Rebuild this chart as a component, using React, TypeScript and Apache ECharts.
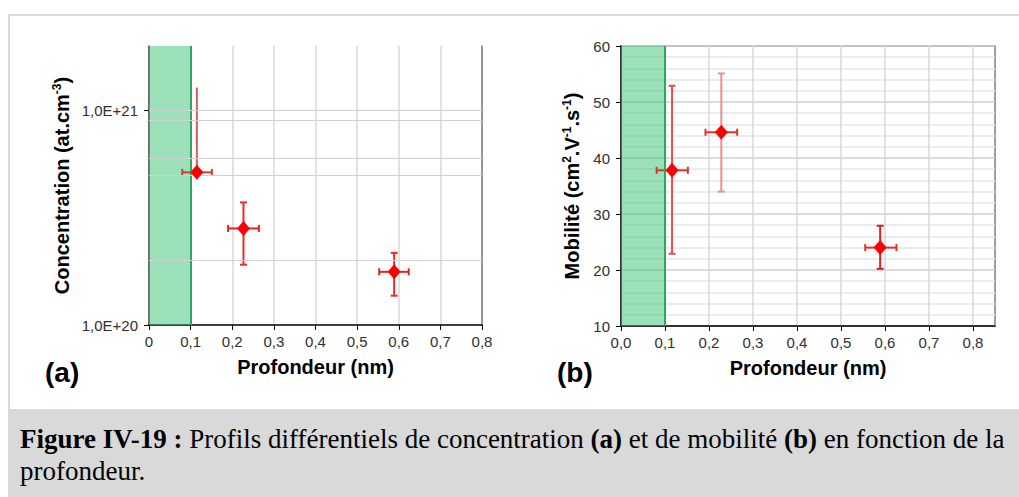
import React, { useEffect, useRef } from "react";
import * as echarts from "echarts";

// ---- Panel (a): concentration ----
const aX = [0.115, 0.227, 0.589];
const aY = [5.15e20, 2.82e20, 1.77e20];
const aXLo = [0.08, 0.19, 0.553];
const aXHi = [0.151, 0.264, 0.624];
const aYLo = [5.15e20, 1.91e20, 1.37e20];
const aYHi = [1.28e21, 3.73e20, 2.17e20];
const aTopCap = [false, true, true];
const aVColor = ["#d95c5c", "#ec2a2a", "#ec2a2a"];
const aHColor = ["#d63a32", "#ec2020", "#ec2020"];
const aXTicks = [0, 0.1, 0.2, 0.3, 0.4, 0.5, 0.6, 0.7, 0.8];
const aYLabels = [1e20, 1e21];
const aMinorGrid = [2e20, 5e20, 6e20, 9e20];

// ---- Panel (b): mobility ----
const bX = [0.116, 0.228, 0.589];
const bY = [37.8, 44.6, 24.0];
const bXLo = [0.081, 0.192, 0.555];
const bXHi = [0.152, 0.264, 0.626];
const bYLo = [22.9, 34.0, 20.2];
const bYHi = [52.9, 55.1, 27.9];
const bTopCap = [true, true, true];
const bVColor = ["#e25050", "#e69090", "#e02020"];
const bHColor = ["#d23a30", "#e63030", "#e63030"];
const bXTicks = [0, 0.1, 0.2, 0.3, 0.4, 0.5, 0.6, 0.7, 0.8];

const bandFrom = 0;
const bandTo = 0.1;

const SANS = "Liberation Sans";

function errorSeries(
  xs: number[], ys: number[], xl: number[], xh: number[], yl: number[], yh: number[],
  topCap: boolean[], vCol: string[], hCol: string[], idx: number
) {
  return {
    type: "custom",
    xAxisIndex: idx,
    yAxisIndex: idx,
    z: 4,
    silent: true,
    encode: { x: 0, y: 1 },
    data: xs.map((x, i) => [x, ys[i], xl[i], xh[i], yl[i], yh[i]]),
    renderItem: (params: any, api: any) => {
      const i = params.dataIndex;
      const x = api.value(0);
      const y = api.value(1);
      const c = api.coord([x, y]);
      const pL = api.coord([api.value(2), y]);
      const pR = api.coord([api.value(3), y]);
      const pB = api.coord([x, api.value(4)]);
      const pT = api.coord([x, api.value(5)]);
      const cap = 3.5;
      const vs = { stroke: vCol[i], lineWidth: 2 };
      const hs = { stroke: hCol[i], lineWidth: 2 };
      const children: any[] = [
        { type: "line", shape: { x1: c[0], y1: pT[1], x2: c[0], y2: pB[1] }, style: vs },
        { type: "line", shape: { x1: pL[0], y1: c[1], x2: pR[0], y2: c[1] }, style: hs },
        { type: "line", shape: { x1: pL[0], y1: c[1] - cap, x2: pL[0], y2: c[1] + cap }, style: hs },
        { type: "line", shape: { x1: pR[0], y1: c[1] - cap, x2: pR[0], y2: c[1] + cap }, style: hs },
      ];
      if (topCap[i]) {
        children.push({ type: "line", shape: { x1: c[0] - cap, y1: pT[1], x2: c[0] + cap, y2: pT[1] }, style: vs });
      }
      if (Math.abs(pB[1] - c[1]) > 1) {
        children.push({ type: "line", shape: { x1: c[0] - cap, y1: pB[1], x2: c[0] + cap, y2: pB[1] }, style: vs });
      }
      return { type: "group", children };
    },
  };
}

function bandSeries(idx: number, extraLines: number[]) {
  return {
    type: "line",
    xAxisIndex: idx,
    yAxisIndex: idx,
    data: [],
    z: 1,
    silent: true,
    markArea: {
      silent: true,
      itemStyle: { color: "rgba(55,193,113,0.5)" },
      data: [[{ xAxis: bandFrom }, { xAxis: bandTo }]],
    },
    markLine: {
      silent: true,
      symbol: "none",
      label: { show: false },
      data: [
        { xAxis: bandTo, lineStyle: { color: "#2aa860", width: 2, type: "solid" } },
        ...extraLines.map((v) => ({ yAxis: v, lineStyle: { color: "#d0d0d0", width: 1.2, type: "solid" } })),
      ],
    },
  };
}

function commaFmt(v: number) {
  return v.toFixed(1).replace(".", ",");
}

export default function App() {
  const ref = useRef<HTMLDivElement>(null);
  useEffect(() => {
    if (!ref.current) return;
    const chart = echarts.init(ref.current, null, { renderer: "svg" });
    const tickLabel = { color: "#303030", fontSize: 15, fontFamily: SANS };
    const nameRich = {
      n: { fontSize: 20, fontWeight: "bold", fontFamily: SANS, color: "#000", lineHeight: 22 },
      s: { fontSize: 12, fontWeight: "bold", fontFamily: SANS, color: "#000", verticalAlign: "top", lineHeight: 12 },
    };
    const option: any = {
      animation: false,
      backgroundColor: "#ffffff",
      grid: [
        { left: 149, top: 46, width: 333, height: 279, show: false },
        { left: 621, top: 46, width: 374, height: 280, show: true, borderColor: "#7f7f7f", borderWidth: 1.5, backgroundColor: "transparent" },
      ],
      xAxis: [
        {
          type: "value", gridIndex: 0, min: 0, max: 0.8, interval: 0.1,
          axisLine: { show: true, onZero: false, lineStyle: { color: "#000", width: 1.5 } },
          axisTick: { show: true, length: 5, lineStyle: { color: "#000" }, customValues: aXTicks },
          axisLabel: { ...tickLabel, margin: 9, customValues: aXTicks, formatter: (v: number) => (v === 0 ? "0" : commaFmt(v)) },
          splitLine: { show: true, lineStyle: { color: "#d9d9d9", width: 1.5 } },
          name: "Profondeur (nm)", nameLocation: "middle", nameGap: 32,
          nameTextStyle: { fontSize: 20, fontWeight: "bold", fontFamily: SANS, color: "#000" },
        },
        {
          type: "value", gridIndex: 1, min: 0, max: 0.85, interval: 0.1,
          axisLine: { show: true, onZero: false, lineStyle: { color: "#000", width: 1.5 } },
          axisTick: { show: true, length: 5, lineStyle: { color: "#000" }, customValues: bXTicks },
          axisLabel: { ...tickLabel, margin: 9, customValues: bXTicks, formatter: (v: number) => (v > 0.81 ? "" : commaFmt(v)) },
          splitLine: { show: true, lineStyle: { color: "#d9d9d9", width: 1.5 } },
          name: "Profondeur (nm)", nameLocation: "middle", nameGap: 32,
          nameTextStyle: { fontSize: 20, fontWeight: "bold", fontFamily: SANS, color: "#000" },
        },
      ],
      yAxis: [
        {
          type: "log", gridIndex: 0, logBase: 10, min: 1e20, max: 2e21,
          axisLine: { show: true, lineStyle: { color: "#404040", width: 1.5 } },
          axisTick: { show: true, length: 5, lineStyle: { color: "#000" }, customValues: aYLabels },
          axisLabel: {
            ...tickLabel, margin: 11, customValues: aYLabels,
            formatter: (v: number) => v.toExponential(1).toUpperCase().replace(".", ","),
          },
          splitLine: { show: false },
          name: "{n|Concentration (at.cm}{s|-3}{n|)}", nameLocation: "middle", nameGap: 76,
          nameTextStyle: { rich: nameRich },
        },
        {
          type: "value", gridIndex: 1, min: 10, max: 60, interval: 10,
          axisLine: { show: true, lineStyle: { color: "#000", width: 1.5 } },
          axisTick: { show: true, length: 5, lineStyle: { color: "#000" } },
          axisLabel: { ...tickLabel, margin: 11 },
          splitLine: { show: true, lineStyle: { color: "#d0d0d0", width: 1.5 } },
          minorTick: { show: false, splitNumber: 5 },
          minorSplitLine: { show: true, lineStyle: { color: "#e6e6e6", width: 1.5 } },
          name: "{n|Mobilité (cm}{s|2}{n|.V}{s|-1}{n|.s}{s|-1}{n|)}", nameLocation: "middle", nameGap: 38,
          nameTextStyle: { rich: nameRich },
        },
        {
          type: "log", gridIndex: 0, logBase: 10, min: 1e20, max: 2e21, position: "right",
          axisLine: { show: true, lineStyle: { color: "#7f7f7f", width: 1.5 } },
          axisTick: { show: false }, axisLabel: { show: false }, splitLine: { show: false },
        },
      ],
      series: [
        bandSeries(0, [1e21, ...aMinorGrid]),
        bandSeries(1, []),
        errorSeries(aX, aY, aXLo, aXHi, aYLo, aYHi, aTopCap, aVColor, aHColor, 0),
        errorSeries(bX, bY, bXLo, bXHi, bYLo, bYHi, bTopCap, bVColor, bHColor, 1),
        {
          type: "scatter", xAxisIndex: 0, yAxisIndex: 0, z: 5, symbol: "diamond", symbolSize: [13, 15],
          itemStyle: { color: "#ff0000", opacity: 1 }, data: aX.map((x, i) => [x, aY[i]]),
        },
        {
          type: "scatter", xAxisIndex: 1, yAxisIndex: 1, z: 5, symbol: "diamond", symbolSize: [13, 15],
          itemStyle: { color: "#ff0000", opacity: 1 }, data: bX.map((x, i) => [x, bY[i]]),
        },
      ],
      graphic: [
        { type: "line", silent: true, shape: { x1: 8, y1: 15, x2: 1019, y2: 15 }, style: { stroke: "#d9d9d9", lineWidth: 2 } },
        { type: "line", silent: true, shape: { x1: 9, y1: 14, x2: 9, y2: 409 }, style: { stroke: "#d9d9d9", lineWidth: 2 } },
        { type: "rect", silent: true, shape: { x: 8, y: 409, width: 1011, height: 88 }, style: { fill: "#d9d9d9" } },
        {
          type: "text", left: 45, top: 358, silent: true,
          style: { text: "(a)", fontSize: 28, fontWeight: "bold", fontFamily: SANS, fill: "#000" },
        },
        {
          type: "text", left: 557, top: 358, silent: true,
          style: { text: "(b)", fontSize: 28, fontWeight: "bold", fontFamily: SANS, fill: "#000" },
        },
        {
          type: "text", left: 20, top: 423, silent: true,
          style: {
            text: "{b|Figure IV-19 :} Profils différentiels de concentration {b|(a)} et de mobilité {b|(b)} en fonction de la\nprofondeur.",
            fontSize: 27, fontFamily: "Liberation Serif", fill: "#000", lineHeight: 32,
            rich: { b: { fontSize: 27, fontFamily: "Liberation Serif", fontWeight: "bold", fill: "#000", lineHeight: 32 } },
          },
        },
      ],
    };
    chart.setOption(option);
    return () => chart.dispose();
  }, []);
  return <div ref={ref} style={{ position: "absolute", left: 0, top: 0, width: 1019, height: 497 }} />;
}
